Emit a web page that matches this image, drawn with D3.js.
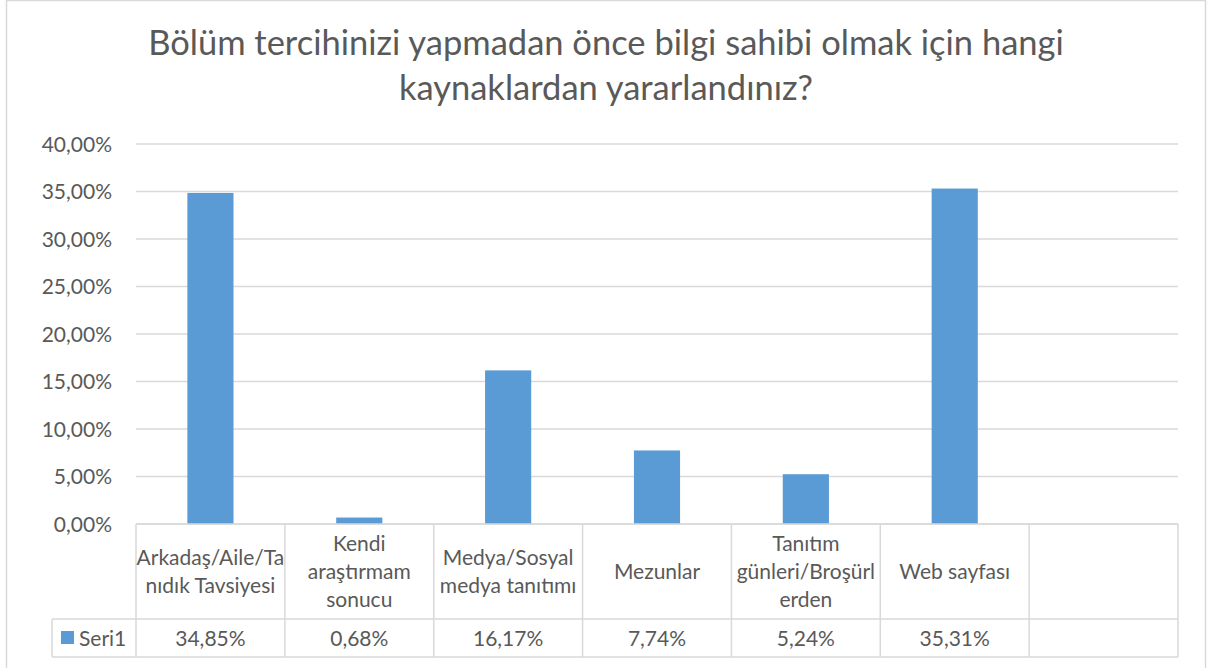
<!DOCTYPE html>
<html>
<head>
<meta charset="utf-8">
<script src="https://cdn.jsdelivr.net/npm/d3@7"></script>
<style>
  body { margin: 0; background: #fff; }
  text { font-family: Lato, "Open Sans", sans-serif; fill: #595959; }
</style>
</head>
<body>
<svg id="chart" width="1208" height="668"></svg>
<script>
// data
const categories = ["Arkadaş/Aile/Tanıdık Tavsiyesi", "Kendi araştırmam sonucu", "Medya/Sosyal medya tanıtımı", "Mezunlar", "Tanıtım günleri/Broşürlerden", "Web sayfası", ""]
const categoryLines = [["Arkadaş/Aile/Ta", "nıdık Tavsiyesi"], ["Kendi", "araştırmam", "sonucu"], ["Medya/Sosyal", "medya tanıtımı"], ["Mezunlar"], ["Tanıtım", "günleri/Broşürl", "erden"], ["Web sayfası"], []]
const values = [34.85, 0.68, 16.17, 7.74, 5.24, 35.31, null]
const seriesName = "Seri1"
const yTicks = [0, 5, 10, 15, 20, 25, 30, 35, 40]
const titleLines = ["Bölüm tercihinizi yapmadan önce bilgi sahibi olmak için hangi", "kaynaklardan yararlandınız?"]

const svg = d3.select("#chart")
const gridColor = "#d9d9d9"
const barColor = "#5b9bd5"
const fs = "21px"

// outer frame
svg.append("rect")
  .attr("x", 6.5).attr("y", 0.5)
  .attr("width", 1199).attr("height", 672)
  .attr("fill", "#fff").attr("stroke", gridColor).attr("stroke-width", 1.5)

// title, shrunk to the width it takes in the reference
const title = svg.append("text")
  .attr("text-anchor", "middle")
  .style("font-size", "30px")
titleLines.forEach((t, i) => {
  title.append("tspan").attr("x", 606).attr("y", 55 + i * 45).text(t)
})
const w0 = title.select("tspan").node().getComputedTextLength()
title.style("font-size", (30 * Math.min(1.15, 921 / w0)) + "px")

const plotLeft = 136, plotRight = 1178
const x = d3.scaleBand().domain(d3.range(categories.length)).range([plotLeft, plotRight])
const y = d3.scaleLinear().domain([0, 40]).range([524, 144])

// gridlines
svg.append("g")
  .selectAll("line").data(yTicks).join("line")
  .attr("x1", plotLeft).attr("x2", plotRight)
  .attr("y1", d => y(d)).attr("y2", d => y(d))
  .attr("stroke", gridColor).attr("stroke-width", 1.5)

// y axis labels
const fmt = v => v.toFixed(2).replace(".", ",") + "%"
svg.append("g")
  .selectAll("text").data(yTicks).join("text")
  .attr("x", 112).attr("y", d => y(d) + 7.5)
  .attr("text-anchor", "end")
  .style("font-size", fs)
  .text(fmt)

// bars
const barW = x.bandwidth() * 0.31
svg.append("g")
  .selectAll("rect").data(values.map((v, i) => ({ v, i })).filter(d => d.v != null)).join("rect")
  .attr("x", d => x(d.i) + x.bandwidth() / 2 - barW / 2)
  .attr("y", d => y(d.v))
  .attr("width", barW)
  .attr("height", d => y(0) - y(d.v))
  .attr("fill", barColor)

// data table
const headTop = 524, rowTop = 619, tableBottom = 657, legendLeft = 52
const table = svg.append("g").attr("fill", "none").attr("stroke", gridColor).attr("stroke-width", 1.5)
table.append("line").attr("x1", plotLeft).attr("x2", plotRight).attr("y1", headTop).attr("y2", headTop)
table.append("line").attr("x1", legendLeft).attr("x2", plotRight).attr("y1", rowTop).attr("y2", rowTop)
table.append("line").attr("x1", legendLeft).attr("x2", plotRight).attr("y1", tableBottom).attr("y2", tableBottom)
table.append("line").attr("x1", legendLeft).attr("x2", legendLeft).attr("y1", rowTop).attr("y2", tableBottom)
table.selectAll(".col").data(d3.range(categories.length + 1)).join("line")
  .attr("x1", i => plotLeft + i * x.step()).attr("x2", i => plotLeft + i * x.step())
  .attr("y1", headTop).attr("y2", tableBottom)

// category labels
const lineH = 28
const heads = svg.append("g").selectAll("text").data(categoryLines).join("text")
  .attr("text-anchor", "middle")
  .style("font-size", fs)
heads.each(function(lines, i) {
  const cx = x(i) + x.bandwidth() / 2
  const first = (headTop + rowTop) / 2 + 7.5 - (lines.length - 1) * lineH / 2
  d3.select(this).selectAll("tspan").data(lines).join("tspan")
    .attr("x", cx).attr("y", (d, k) => first + k * lineH)
    .text(d => d)
})

// value row
svg.append("g").selectAll("text").data(values).join("text")
  .attr("x", (d, i) => x(i) + x.bandwidth() / 2)
  .attr("y", (rowTop + tableBottom) / 2 + 7.5)
  .attr("text-anchor", "middle")
  .style("font-size", fs)
  .text(d => d == null ? "" : fmt(d))

// legend key
svg.append("rect").attr("x", 61).attr("y", 631).attr("width", 13).attr("height", 13).attr("fill", barColor)
svg.append("text").attr("x", 79).attr("y", 645.5).style("font-size", fs).text(seriesName)
</script>
</body>
</html>
